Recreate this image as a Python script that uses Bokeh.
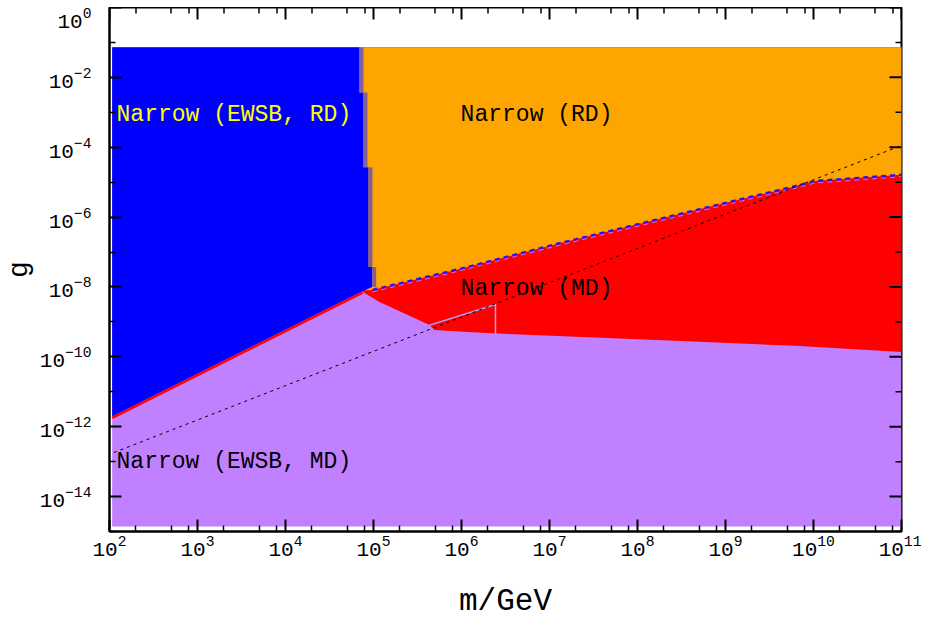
import numpy as np
from bokeh.plotting import figure
from bokeh.models import FixedTicker, Range1d, Spacer
from bokeh.layouts import column
from bokeh.core.properties import value
from bokeh.embed import file_html
from bokeh.resources import INLINE

# ---------------- data (log10 values) ----------------
# axis ticks
x_major_exp = list(range(2, 12))
x_minor_mant = [2, 5, 8]
y_major_exp = list(range(-14, 1, 2))
y_minor_exp = list(range(-15, 0, 2))
x_lim_exp = [2, 11]
y_lim_exp = [-15, 0]

# extent of the scanned region
region_m_exp = [2.03, 11.0]
region_g_exp = [-14.86, -1.14]

# lower edge of the "Narrow (EWSB, RD)" region
ewsb_m_exp = [2.03, 4.875]
ewsb_g_exp = [-11.71, -8.12]

# stepped edge between EWSB,RD and RD regions
step_m_exp = [4.841, 4.886, 4.943, 4.985]
step_g_exp = [-1.14, -2.43, -4.57, -7.43, -8.0]

# upper edge of the "Narrow (EWSB, MD)" region
md_low_m_exp = [4.875, 5.068, 5.636, 5.693, 6.068, 6.466, 8.705, 9.841, 11.0]
md_low_g_exp = [-8.14, -8.43, -9.086, -9.23, -9.29, -9.34, -9.57, -9.69, -9.86]

# lower edge of the "Narrow (RD)" region
rd_m_exp = [4.841, 4.989, 5.977, 7.08, 8.898, 9.841, 10.01, 11.0]
rd_g_exp = [-8.1, -8.086, -7.486, -6.77, -5.657, -5.086, -4.97, -4.79]

# dotted reference line
dot_m_exp = [2.05, 11.0]
dot_g_exp = [-12.74, -3.95]

# thin outline inside MD region
tri_m_exp = [5.63, 6.386, 6.386]
tri_g_exp = [-9.1, -8.5, -9.34]

# region labels
labels = ["Narrow (EWSB, RD)", "Narrow (RD)", "Narrow (MD)", "Narrow (EWSB, MD)"]
label_m_exp = [2.08, 5.99, 5.99, 2.08]
label_g_exp = [-3.09, -3.09, -8.06, -13.0]
label_colors = ["#ffff00", "#000000", "#000000", "#000000"]

x_title = "m/GeV"
y_title = "g"

# ---------------- colours ----------------
BLUE = "#0000ff"
ORANGE = "#ffa500"
RED = "#ff0000"
LAVENDER = "#c080ff"
BAND = "#80609c"

def p10(a):
    return list(10.0 ** np.asarray(a, dtype=float))

p = figure(frame_width=792, frame_height=524,
           x_axis_type="log", y_axis_type="log",
           x_range=Range1d(*p10(x_lim_exp)), y_range=Range1d(*p10(y_lim_exp)),
           output_backend="svg", toolbar_location=None,
           min_border_left=102, min_border_right=20,
           min_border_top=0, min_border_bottom=20,
           background_fill_color="white", border_fill_color="white")
p.xgrid.visible = False
p.ygrid.visible = False
p.outline_line_color = "black"
p.outline_line_width = 2

# lavender base (EWSB, MD)
m0, m1 = region_m_exp
g0, g1 = region_g_exp
p.patch(p10([m0, m1, m1, m0]), p10([g0, g0, g1, g1]), color=LAVENDER, line_width=0)

# red (MD)
rx = md_low_m_exp + [m1, md_low_m_exp[0]]
ry = md_low_g_exp + [g1, g1]
p.patch(p10(rx), p10(ry), color=RED, line_width=0)

# orange (RD)
ox = [rd_m_exp[0]] + rd_m_exp + [m1]
oy = [g1] + rd_g_exp + [g1]
p.patch(p10(ox), p10(oy), color=ORANGE, line_width=0)

# blue (EWSB, RD)
bx, by = [m0], [g1]
for i, me in enumerate(step_m_exp):
    bx += [me, me]
    by += [step_g_exp[i], step_g_exp[i + 1]]
bx += [ewsb_m_exp[1], ewsb_m_exp[0]]
by += [ewsb_g_exp[1], ewsb_g_exp[0]]
p.patch(p10(bx), p10(by), color=BLUE, line_width=0)

# greyish band along stepped edge
half_band = 0.0225
sx = p10(np.asarray(step_m_exp) + half_band)
p.segment(x0=sx, y0=p10(step_g_exp[:-1]), x1=sx, y1=p10(step_g_exp[1:]),
          line_color=BAND, line_width=4, line_cap="butt")

# fringes
p.line(p10(ewsb_m_exp), p10(np.asarray(ewsb_g_exp) - 0.04), line_color=RED, line_width=2.5)
p.line(p10(rd_m_exp[1:]), p10(np.asarray(rd_g_exp[1:]) - 0.05), line_color="#d060e0",
       line_width=1.5, line_dash="5 4")
p.line(p10(rd_m_exp[1:]), p10(rd_g_exp[1:]), line_color="#3010e8", line_width=2.5,
       line_dash="5 4")

# thin outline
p.line(p10(tri_m_exp), p10(tri_g_exp), line_color="#b0a0ff", line_width=1.5)

# dotted line
p.line(p10(dot_m_exp), p10(dot_g_exp), line_color="black", line_width=1, line_dash="3 4")

# labels
p.text(x=p10(label_m_exp), y=p10(label_g_exp), text=labels, text_color=label_colors,
       text_font=value("Liberation Mono"), text_font_size="23px",
       text_align="left", text_baseline="middle")

# ---------------- axes ----------------
x_major = [10.0 ** e for e in x_major_exp]
x_minor = [k * 10.0 ** e for e in x_major_exp[:-1] for k in x_minor_mant]
y_major = [10.0 ** e for e in y_major_exp]
y_minor = [10.0 ** e for e in y_minor_exp]

for ax in p.xaxis + p.yaxis:
    ax.axis_line_color = "black"
    ax.axis_line_width = 2
    ax.major_tick_in = 12
    ax.major_tick_out = 0
    ax.minor_tick_in = 6
    ax.minor_tick_out = 0
    ax.major_tick_line_width = 2
    ax.minor_tick_line_width = 1.5
    ax.major_tick_line_color = "black"
    ax.minor_tick_line_color = "black"
    ax.major_label_text_font = "Liberation Mono"
    ax.major_label_text_font_size = "21px"
    ax.major_label_text_color = "#000000"
    ax.axis_label_text_font = "Liberation Mono"
    ax.axis_label_text_font_style = "normal"
    ax.axis_label_text_color = "#000000"

p.xaxis.ticker = FixedTicker(ticks=x_major, minor_ticks=x_minor)
p.yaxis.ticker = FixedTicker(ticks=y_major, minor_ticks=y_minor)
p.xaxis.axis_label = x_title
p.yaxis.axis_label = y_title
p.yaxis.axis_label_text_font_size = "28px"
p.xaxis.axis_label_text_font_size = "31px"
p.xaxis.axis_label_text_line_height = 0.7
p.xaxis.major_label_standoff = 3
p.xaxis.axis_label_standoff = 25
p.yaxis.major_label_standoff = 18
p.yaxis.axis_label_standoff = 2

# tick marks on the top and right edges of the frame
x_top = 10.0 ** y_lim_exp[1]
y_right = 10.0 ** x_lim_exp[1]
p.ray(x=x_major, y=[x_top] * len(x_major), length=12, length_units="screen",
      angle=-np.pi / 2, line_color="black", line_width=2)
p.ray(x=x_minor, y=[x_top] * len(x_minor), length=6, length_units="screen",
      angle=-np.pi / 2, line_color="black", line_width=1.5)
p.ray(x=[y_right] * len(y_major), y=y_major, length=12, length_units="screen",
      angle=np.pi, line_color="black", line_width=2)
p.ray(x=[y_right] * len(y_minor), y=y_minor, length=6, length_units="screen",
      angle=np.pi, line_color="black", line_width=1.5)

layout = column(Spacer(width=10, height=7), p)

open("out.html", "w").write(file_html(layout, INLINE))
